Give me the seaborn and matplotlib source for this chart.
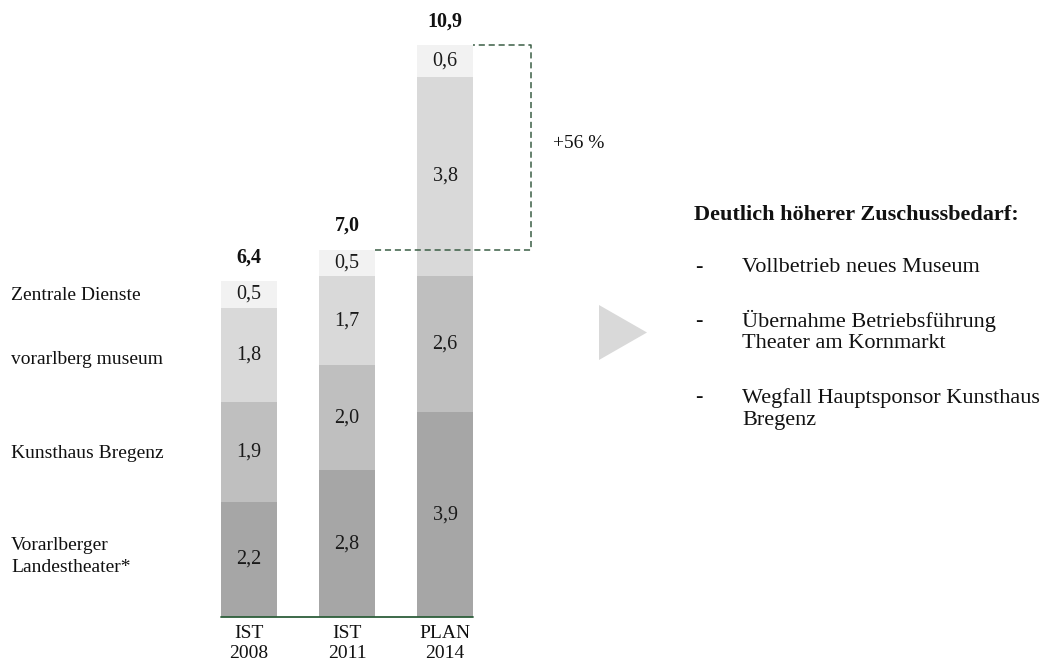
import numpy as np
import pandas as pd
import matplotlib
matplotlib.use("Agg")
import matplotlib.pyplot as plt
from matplotlib.patches import Polygon
import seaborn as sns

# ---- data ----
periods = ["IST\n2008", "IST\n2011", "PLAN\n2014"]
segments = ["Vorarlberger\nLandestheater*", "Kunsthaus Bregenz", "vorarlberg museum", "Zentrale Dienste"]
landestheater = [2.2, 2.8, 3.9]
kunsthaus = [1.9, 2.0, 2.6]
museum = [1.8, 1.7, 3.8]
zentrale = [0.5, 0.5, 0.6]
totals = [6.4, 7.0, 10.9]
growth_label = "+56 %"
headline = "Deutlich höherer Zuschussbedarf:"
bullets = ["Vollbetrieb neues Museum",
           "Übernahme Betriebsführung\nTheater am Kornmarkt",
           "Wegfall Hauptsponsor Kunsthaus\nBregenz"]

colors = ["#a6a6a6", "#bfbfbf", "#d9d9d9", "#f2f2f2"]
series = [landestheater, kunsthaus, museum, zentrale]

sns.set_theme(style="white")
plt.rcParams["font.family"] = ["Liberation Serif", "DejaVu Serif"]

W, H = 1047, 664
fig = plt.figure(figsize=(W / 100, H / 100), dpi=100)

def fx(px):
    return px / W

def fy(py):
    return 1 - py / H

# axes placement: category spacing 98 px, baseline at y=617 px, 52.45 px per unit
base_px = 617
ppu = 52.45
ymax = 11.5
ax = fig.add_axes([fx(249 - 49), fy(base_px), 98 * 3 / W, ymax * ppu / H])

df = pd.DataFrame({"period": periods})
cum = np.zeros(3)
cums = []
for s in series:
    cum = cum + np.array(s)
    cums.append(cum.copy())

bw = 56 / 98
# draw cumulative bars from top to bottom so lower segments overlay
for i in range(len(series) - 1, -1, -1):
    d = df.copy()
    d["val"] = cums[i]
    sns.barplot(data=d, x="period", y="val", color=colors[i], width=bw,
                saturation=1, ax=ax, edgecolor="none", linewidth=0, errorbar=None)

# segment labels
for i, s in enumerate(series):
    bottoms = cums[i] - np.array(s)
    for j, v in enumerate(s):
        ax.text(j, bottoms[j] + v / 2, f"{v:.1f}".replace(".", ","), ha="center",
                va="center", fontsize=14.5, color="#1a1a1a")

# totals
for j, t in enumerate(totals):
    ax.text(j, t + 0.46, f"{t:.1f}".replace(".", ","), ha="center", va="center",
            fontsize=14.5, fontweight="bold", color="#111111")

ax.set_xlim(-0.5, 2.5)
ax.set_ylim(0, ymax)
ax.set_xlabel("")
ax.set_ylabel("")
ax.set_yticks([])
ax.set_xticks([])
for sp in ax.spines.values():
    sp.set_visible(False)

# baseline
ax.plot([-bw / 2, 2 + bw / 2], [0, 0], color="#2d5e3a", lw=1.3, clip_on=False, zorder=5)

# x labels
for j, p in enumerate(periods):
    ax.text(j, -(633 - base_px) / ppu, p.split("\n")[0], ha="center", va="center",
            fontsize=14, color="#111111", clip_on=False)
    ax.text(j, -(654 - base_px) / ppu, p.split("\n")[1], ha="center", va="center",
            fontsize=14, color="#111111", clip_on=False)

# dashed bracket
xr = (531 - 249) / 98
ax.plot([1 + bw / 2, xr, xr, 2 + bw / 2], [totals[1], totals[1], totals[2], totals[2]],
        color="#3b5e45", lw=1.1, ls=(0, (4, 2.5)), clip_on=False, zorder=6)
ax.text((553 - 249) / 98, (base_px - 143) / ppu, growth_label, ha="left", va="center",
        fontsize=14, color="#111111", clip_on=False)

# left segment labels
left_pos = [[545, 567], [453], [360], [295]]
for lab, ys in zip(segments, left_pos):
    for line, yy in zip(lab.split("\n"), ys):
        fig.text(fx(11), fy(yy), line, ha="left", va="center", fontsize=14, color="#111111")

# triangle
tri = Polygon([[fx(599), fy(305)], [fx(599), fy(360)], [fx(647), fy(332.5)]],
              closed=True, transform=fig.transFigure, facecolor="#d9d9d9", edgecolor="none")
fig.patches.append(tri)

# right text
fig.text(fx(694), fy(215), headline, ha="left", va="center", fontsize=16,
         fontweight="bold", color="#111111")
bullet_y = [[268], [321, 344], [398, 421]]
for b, ys in zip(bullets, bullet_y):
    fig.text(fx(695), fy(ys[0]), "-", ha="left", va="center", fontsize=16, color="#111111")
    for line, yy in zip(b.split("\n"), ys):
        fig.text(fx(742), fy(yy), line, ha="left", va="center", fontsize=16, color="#111111")

fig.savefig("out.png", dpi=100, facecolor="white")
